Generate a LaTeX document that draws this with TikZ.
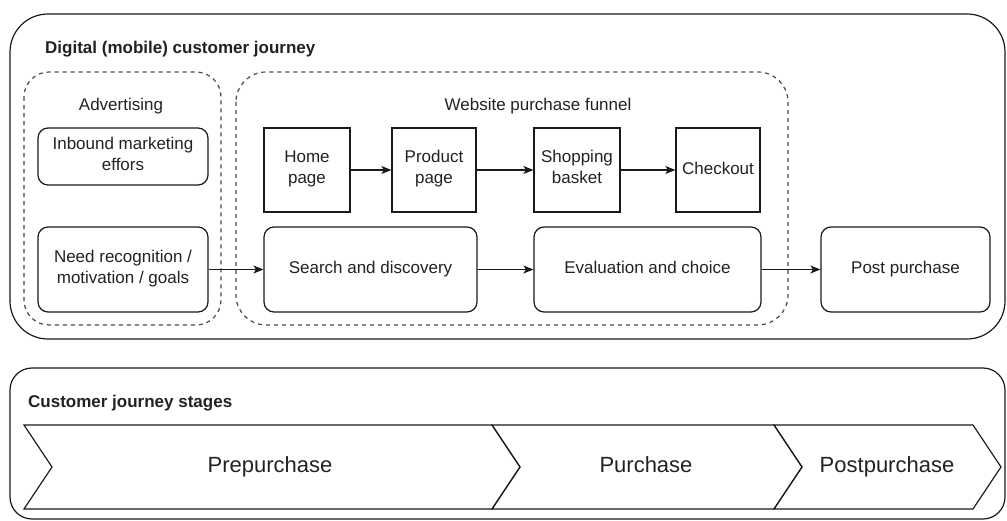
\documentclass[tikz,border=0pt]{standalone}
\usepackage{fontspec}
\setmainfont{Liberation Sans}
\usetikzlibrary{arrows.meta}
\definecolor{ink}{HTML}{222222}
\definecolor{edge}{HTML}{1A1A1A}
\begin{document}
\begin{tikzpicture}[x=1pt,y=-1pt,
  lbl/.style={text=ink, font=\fontsize{17}{21}\selectfont, align=center, inner sep=0},
  oneline/.style={text height=12.5pt, text depth=3.5pt},
  twoline/.style={execute at begin node=\strut, execute at end node=\strut},
  ttl/.style={text=ink, font=\bfseries\fontsize{17}{21}\selectfont, inner sep=0, anchor=west, text height=12.5pt, text depth=3.5pt},
  stagetxt/.style={text=ink, font=\fontsize{22}{26}\selectfont, inner sep=0, text height=16pt, text depth=4.5pt},
  frame/.style={draw=edge, line width=1.2pt},
  dframe/.style={draw=edge!80, line width=1.2pt, dash pattern=on 4pt off 4pt},
  rbox/.style={lbl, frame, rounded corners=10pt, fill=white},
  sbox/.style={lbl, frame, fill=white},
  arr/.style={draw=edge, line width=1.2pt, -{Stealth[length=10pt,width=8pt,inset=2.5pt]}},
]
\useasboundingbox (0,0) rectangle (1007,521);

% digital journey container
\draw[frame, rounded corners=38pt] (10,14) rectangle (1005,339);
\node[ttl] (digtitle) at (45,49) {Digital (mobile) customer journey};

% advertising group
\draw[dframe, rounded corners=25pt] (24,72) rectangle (221,325);
\node[lbl, oneline] (adtitle) at (121,106) {Advertising};
\node[rbox, twoline, minimum width=170, minimum height=57] (inbound) at (123,156.5) {Inbound marketing\\effors};
\node[rbox, twoline, minimum width=170, minimum height=85] (need) at (123,269.5) {Need recognition /\\motivation / goals};

% website funnel group
\draw[dframe, rounded corners=30pt] (236,72) rectangle (788,325);
\node[lbl, oneline] (funtitle) at (538,106) {Website purchase funnel};
\node[sbox, twoline, minimum width=86, minimum height=84] (home) at (307,170) {Home\\page};
\node[sbox, twoline, minimum width=84, minimum height=84] (product) at (434,170) {Product\\page};
\node[sbox, twoline, minimum width=86, minimum height=84] (basket) at (577,170) {Shopping\\basket};
\node[sbox, oneline, minimum width=84, minimum height=84] (checkout) at (718,170) {Checkout};
\node[rbox, oneline, minimum width=213, minimum height=85] (search) at (370.5,269.5) {Search and discovery};
\node[rbox, oneline, minimum width=227, minimum height=85] (eval) at (647.5,269.5) {Evaluation and choice};
\node[rbox, oneline, minimum width=169, minimum height=85] (post) at (905.5,269.5) {Post purchase};

\draw[arr] (home) -- (product);
\draw[arr] (product) -- (basket);
\draw[arr] (basket) -- (checkout);
\draw[arr] (need) -- (search);
\draw[arr] (search) -- (eval);
\draw[arr] (eval) -- (post);

% stages container
\draw[frame, rounded corners=22pt] (10,368) rectangle (1005,519);
\node[ttl] (stagetitle) at (28,403) {Customer journey stages};

\draw[frame, line join=miter] (24,425) -- (492,425) -- (520,467) -- (492,509) -- (24,509) -- (52,467) -- cycle;
\draw[frame, line join=miter] (492,425) -- (774,425) -- (802,467) -- (774,509) -- (492,509) -- (520,467) -- cycle;
\draw[frame, line join=miter] (774,425) -- (973,425) -- (1001,467) -- (973,509) -- (774,509) -- (802,467) -- cycle;
\node[stagetxt] (pre) at (270,467) {Prepurchase};
\node[stagetxt] (pur) at (646,467) {Purchase};
\node[stagetxt] (postp) at (887,467) {Postpurchase};
\end{tikzpicture}
\end{document}
